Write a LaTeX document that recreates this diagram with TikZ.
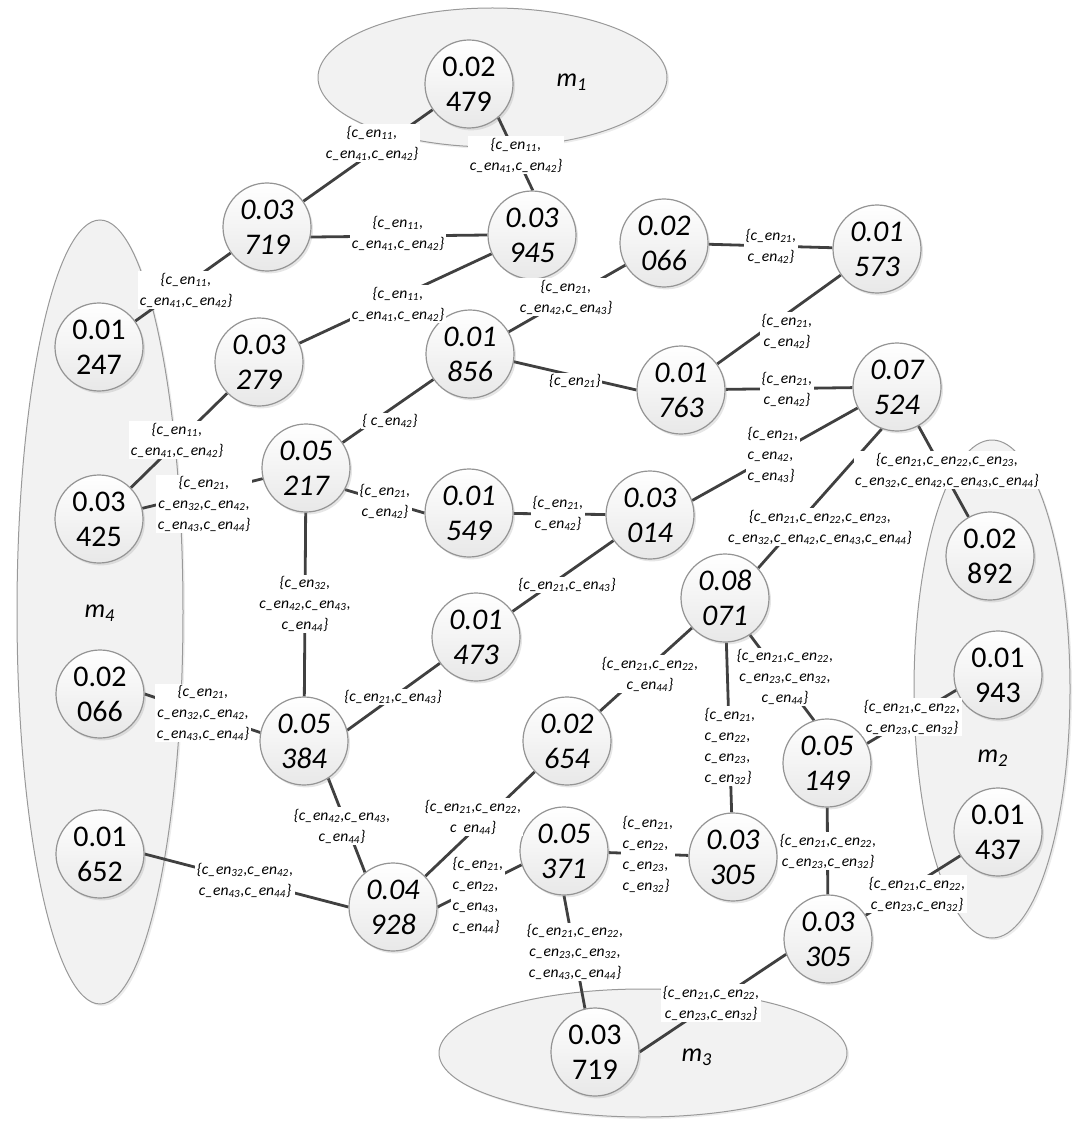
\documentclass[tikz,border=0pt]{standalone}
\usepackage{fontspec}
\setmainfont{Carlito}
\usetikzlibrary{shadows}
\pgfdeclarelayer{bg}
\pgfdeclarelayer{edg}
\pgfsetlayers{bg,edg,main}
\newcommand{\cenx}[1]{c\_en\textsubscript{#1}}
\tikzset{
  ci/.style={circle, draw=black!42, line width=0.6pt, minimum size=44pt, inner sep=0pt,
    top color=white, bottom color=black!9,
    drop shadow={opacity=0.2, shadow xshift=1pt, shadow yshift=-1.2pt},
    align=center, font=\fontsize{15}{17.5}\selectfont\itshape},
  cu/.style={ci, font=\fontsize{15}{17.5}\selectfont},
  lab/.style={fill=white, inner sep=0.8pt, align=center, font=\fontsize{7.8}{10.5}\selectfont\itshape},
  labl/.style={lab, align=left},
  ed/.style={draw=black!75, line width=1.4pt},
  grp/.style={draw=black!40, line width=0.5pt, fill=black!5,
    drop shadow={opacity=0.15, shadow xshift=1pt, shadow yshift=-1pt}},
  ml/.style={font=\fontsize{13}{15}\selectfont\itshape}
}
\begin{document}
\begin{tikzpicture}[x=0.5pt, y=-0.5pt]
\useasboundingbox (0,0) rectangle (1080,1134);

% groups
\begin{pgfonlayer}{bg}
  \draw[grp] (492.5,77.5) ellipse [x radius=87.25pt, y radius=34.75pt];
  \draw[grp] (100,612) ellipse [x radius=41.5pt, y radius=196pt];
  \draw[grp] (992,689) ellipse [x radius=39pt, y radius=124.5pt];
  \draw[grp] (643,1053) ellipse [x radius=102pt, y radius=32pt];
\end{pgfonlayer}
\node[ml] (m1) at (572,82) {m\textsubscript{1}};
\node[ml] (m4) at (100,613) {m\textsubscript{4}};
\node[ml] (m2) at (993,758) {m\textsubscript{2}};
\node[ml] (m3) at (697,1057) {m\textsubscript{3}};

% nodes
\node[cu] (n02479) at (469,84) {0.02\\479};
\node[ci] (n03719) at (267,227) {0.03\\719};
\node[ci] (n03945) at (532,235) {0.03\\945};
\node[ci] (n02066a) at (664,243) {0.02\\066};
\node[ci] (n01573) at (877,249) {0.01\\573};
\node[cu] (n01247) at (99,347) {0.01\\247};
\node[ci] (n03279) at (259,362) {0.03\\279};
\node[ci] (n01856) at (470,354) {0.01\\856};
\node[ci] (n01763) at (681,390) {0.01\\763};
\node[ci] (n07524) at (897,387) {0.07\\524};
\node[ci] (n05217) at (306,468) {0.05\\217};
\node[cu] (n03425) at (99,519) {0.03\\425};
\node[ci] (n01549) at (469,513) {0.01\\549};
\node[ci] (n03014) at (650,515) {0.03\\014};
\node[ci] (n01473) at (476,637) {0.01\\473};
\node[ci] (n08071) at (725,598) {0.08\\071};
\node[cu] (n02892) at (990,556) {0.02\\892};
\node[cu] (n02066b) at (100,694) {0.02\\066};
\node[ci] (n05384) at (304,741) {0.05\\384};
\node[cu] (n01943) at (998,675) {0.01\\943};
\node[ci] (n02654) at (567,741) {0.02\\654};
\node[ci] (n05149) at (827,763) {0.05\\149};
\node[cu] (n01652) at (100,854) {0.01\\652};
\node[ci] (n04928) at (393,907) {0.04\\928};
\node[ci] (n05371) at (564,851) {0.05\\371};
\node[ci] (n03305a) at (733,857) {0.03\\305};
\node[cu] (n01437) at (998,832) {0.01\\437};
\node[ci] (n03305b) at (828,939) {0.03\\305};
\node[cu] (n03719b) at (595,1052) {0.03\\719};

% connectors
\begin{pgfonlayer}{edg}
  \draw[ed] (n03719) -- (n02479);
  \draw[ed] (n02479.-49) -- (n03945.89);
  \draw[ed] (n03719.-13) -- (n03945.180);
  \draw[ed] (n03945) -- (n03279);
  \draw[ed] (n03719) -- (n01247);
  \draw[ed] (n03279) -- (n03425);
  \draw[ed] (n05217) -- (n03425);
  \draw[ed] (n01856) -- (n02066a);
  \draw[ed] (n02066a) -- (n01573);
  \draw[ed] (n01573) -- (n01763);
  \draw[ed] (n01856.-10) -- (n01763.180);
  \draw[ed] (n01763) -- (n07524);
  \draw[ed] (n03014.19) -- (n07524.208);
  \draw[ed] (n01856) -- (n05217);
  \draw[ed] (n05217.-29) -- (n01549.180);
  \draw[ed] (n01549) -- (n03014);
  \draw[ed] (n03014) -- (n01473);
  \draw[ed] (n05217) -- (n05384);
  \draw[ed] (n02066b.0) -- (n05384.169);
  \draw[ed] (n05384.14) -- (n01473.216);
  \draw[ed] (n07524) -- (n02892);
  \draw[ed] (n07524.250) -- (n08071.42);
  \draw[ed] (n08071) -- (n02654);
  \draw[ed] (n08071.-56) -- (n05149.107);
  \draw[ed] (n08071) -- (n03305a);
  \draw[ed] (n05149.26) -- (n01943.200);
  \draw[ed] (n05149) -- (n03305b);
  \draw[ed] (n03305b) -- (n01437);
  \draw[ed] (n03305b.200) -- (n03719b.0);
  \draw[ed] (n02654) -- (n04928);
  \draw[ed] (n05384.-57) -- (n04928.129);
  \draw[ed] (n01652.0) -- (n04928.180);
  \draw[ed] (n04928.0) -- (n05371.198);
  \draw[ed] (n05371) -- (n03305a);
  \draw[ed] (n05371.270) -- (n03719b.103);
\end{pgfonlayer}

% labels
\node[lab] (l1) at (372,143) {\{\cenx{11},\\\cenx{41},\cenx{42}\}};
\node[lab] (l2) at (516,155) {\{\cenx{11},\\\cenx{41},\cenx{42}\}};
\node[lab] (l3) at (398,233) {\{\cenx{11},\\\cenx{41},\cenx{42}\}};
\node[lab] (l4) at (398,304) {\{\cenx{11},\\\cenx{41},\cenx{42}\}};
\node[lab] (l5) at (186,290) {\{\cenx{11},\\\cenx{41},\cenx{42}\}};
\node[lab] (l6) at (177,440) {\{\cenx{11},\\\cenx{41},\cenx{42}\}};
\node[lab] (l7) at (204,504) {\{\cenx{21},\\\cenx{32},\cenx{42},\\\cenx{43},\cenx{44}\}};
\node[lab] (l8) at (566,297) {\{\cenx{21},\\\cenx{42},\cenx{43}\}};
\node[lab] (l9) at (771,246) {\{\cenx{21},\\\cenx{42}\}};
\node[lab] (l10) at (787,331) {\{\cenx{21},\\\cenx{42}\}};
\node[lab] (l11) at (575,381) {\{\cenx{21}\}};
\node[lab] (l12) at (787,389) {\{\cenx{21},\\\cenx{42}\}};
\node[labl] (l13) at (773,455) {\{\cenx{21},\\\cenx{42},\\\cenx{43}\}};
\node[lab] (l14) at (390,421) {\{ \cenx{42}\}};
\node[lab] (l15) at (385,501) {\{\cenx{21},\\\cenx{42}\}};
\node[lab] (l16) at (558,513) {\{\cenx{21},\\\cenx{42}\}};
\node[lab] (l17) at (567,585) {\{\cenx{21},\cenx{43}\}};
\node[lab] (l18) at (305,604) {\{\cenx{32},\\\cenx{42},\cenx{43},\\\cenx{44}\}};
\node[lab] (l19) at (203,713) {\{\cenx{21},\\\cenx{32},\cenx{42},\\\cenx{43},\cenx{44}\}};
\node[lab] (l20) at (393,697) {\{\cenx{21},\cenx{43}\}};
\node[lab] (l21) at (947,470) {\{\cenx{21},\cenx{22},\cenx{23},\\\cenx{32},\cenx{42},\cenx{43},\cenx{44}\}};
\node[lab] (l22) at (820,527) {\{\cenx{21},\cenx{22},\cenx{23},\\\cenx{32},\cenx{42},\cenx{43},\cenx{44}\}};
\node[lab] (l23) at (650,674) {\{\cenx{21},\cenx{22},\\\cenx{44}\}};
\node[lab] (l24) at (785,677) {\{\cenx{21},\cenx{22},\\\cenx{23},\cenx{32},\\\cenx{44}\}};
\node[labl] (l25) at (730,746) {\{\cenx{21},\\\cenx{22},\\\cenx{23},\\\cenx{32}\}};
\node[lab] (l26) at (912,717) {\{\cenx{21},\cenx{22},\\\cenx{23},\cenx{32}\}};
\node[lab] (l27) at (828,851) {\{\cenx{21},\cenx{22},\\\cenx{23},\cenx{32}\}};
\node[lab] (l28) at (917,894) {\{\cenx{21},\cenx{22},\\\cenx{23},\cenx{32}\}};
\node[lab] (l29) at (711,1003) {\{\cenx{21},\cenx{22},\\\cenx{23},\cenx{32}\}};
\node[lab] (l30) at (473,817) {\{\cenx{21},\cenx{22},\\c\ \ en\textsubscript{44}\}};
\node[lab] (l31) at (342,826) {\{\cenx{42},\cenx{43},\\\cenx{44}\}};
\node[lab] (l32) at (245,880) {\{\cenx{32},\cenx{42},\\\cenx{43},\cenx{44}\}};
\node[labl] (l33) at (478,895) {\{\cenx{21},\\\cenx{22},\\\cenx{43},\\\cenx{44}\}};
\node[labl] (l34) at (648,854) {\{\cenx{21},\\\cenx{22},\\\cenx{23},\\\cenx{32}\}};
\node[lab] (l35) at (575,952) {\{\cenx{21},\cenx{22},\\\cenx{23},\cenx{32},\\\cenx{43},\cenx{44}\}};
\end{tikzpicture}
\end{document}
